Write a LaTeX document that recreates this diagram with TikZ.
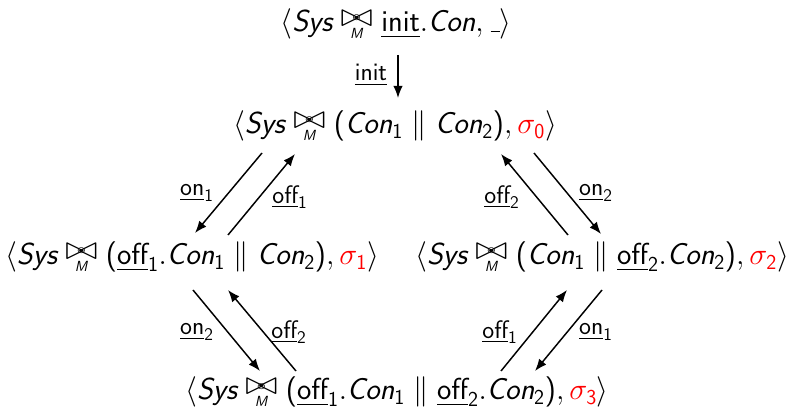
\RequirePackage{fix-cm}
\documentclass[tikz,border=0pt]{standalone}
\usepackage{amsmath}
\usepackage{graphicx}
\usetikzlibrary{arrows.meta}
\newcommand{\bwglyph}{\ooalign{\scalebox{1.3}[1.1]{$\bowtie$}\cr\hidewidth$\vcenter{\hbox{\scalebox{0.6}[0.5]{$\circ$}}}$\hidewidth\cr}}
\newcommand{\syncop}{\mathrel{\ooalign{\raisebox{0.19em}{\bwglyph}\cr\hidewidth\raisebox{-0.2em}{\fontsize{11}{12}\selectfont\textsl{M}}\hidewidth\cr}}}
\newcommand{\Sl}[1]{\textsl{#1}}
\newcommand{\ul}[1]{\underline{\textsf{#1}}}
\newcommand{\sbs}[1]{_{\textsf{#1}}}
\newcommand{\lp}{\textsf{(}}
\newcommand{\rp}{\textsf{)}}
\newcommand{\blank}{\kern0.06em\rule{0.3em}{0.045em}}
\tikzset{
  state/.style={anchor=base, inner sep=0pt, font=\sffamily\fontsize{22.8}{27}\selectfont},
  lbl/.style={inner sep=0pt, font=\sffamily\fontsize{19}{23}\selectfont},
  conn/.style={-{Latex[length=9pt,width=7pt]}, line width=1.1pt}
}
\begin{document}
\begin{tikzpicture}[x=0.75pt,y=-0.75pt]
\useasboundingbox (0,0) rectangle (789,416);
% states
\node[state] (top) at (396,32) {$\langle \Sl{Sys} \syncop \ul{init}.\Sl{Con}, \blank\rangle$};
\node[state] (s0) at (395,134) {$\langle \Sl{Sys} \syncop \lp\Sl{Con}\sbs1 \parallel \Sl{Con}\sbs2\rp, {\color{red}\sigma\sbs0}\rangle$};
\node[state] (s1) at (192,265) {$\langle \Sl{Sys} \syncop \lp\ul{off}\sbs1.\Sl{Con}\sbs1 \parallel \Sl{Con}\sbs2\rp, {\color{red}\sigma\sbs1}\rangle$};
\node[state] (s2) at (602,265) {$\langle \Sl{Sys} \syncop \lp\Sl{Con}\sbs1 \parallel \ul{off}\sbs2.\Sl{Con}\sbs2\rp, {\color{red}\sigma\sbs2}\rangle$};
\node[state] (s3) at (397,400) {$\langle \Sl{Sys} \syncop \lp\ul{off}\sbs1.\Sl{Con}\sbs1 \parallel \ul{off}\sbs2.\Sl{Con}\sbs2\rp, {\color{red}\sigma\sbs3}\rangle$};
% connector end points
\coordinate (i0) at (398,55);  \coordinate (i1) at (398,98);
\coordinate (a0) at (262,153); \coordinate (a1) at (195,233);
\coordinate (b0) at (228,235); \coordinate (b1) at (295,154);
\coordinate (c0) at (568,235); \coordinate (c1) at (501,154);
\coordinate (d0) at (534,153); \coordinate (d1) at (601,234);
\coordinate (e0) at (193,290); \coordinate (e1) at (260,371);
\coordinate (f0) at (296,371); \coordinate (f1) at (228,290);
\coordinate (g0) at (501,371); \coordinate (g1) at (567,290);
\coordinate (h0) at (602,290); \coordinate (h1) at (535,371);
\draw[conn] (i0) -- (i1);
\draw[conn] (a0) -- (a1);
\draw[conn] (b0) -- (b1);
\draw[conn] (c0) -- (c1);
\draw[conn] (d0) -- (d1);
\draw[conn] (e0) -- (e1);
\draw[conn] (f0) -- (f1);
\draw[conn] (g0) -- (g1);
\draw[conn] (h0) -- (h1);
% labels
\node[lbl] (li) at (371,75) {$\ul{init}$};
\node[lbl] (la) at (197,193) {$\ul{on}\sbs1$};
\node[lbl] (lb) at (290,197) {$\ul{off}\sbs1$};
\node[lbl] (lc) at (502,197) {$\ul{off}\sbs2$};
\node[lbl] (ld) at (596,193) {$\ul{on}\sbs2$};
\node[lbl] (le) at (197,332) {$\ul{on}\sbs2$};
\node[lbl] (lf) at (289,332) {$\ul{off}\sbs2$};
\node[lbl] (lg) at (500,332) {$\ul{off}\sbs1$};
\node[lbl] (lh) at (596,332) {$\ul{on}\sbs1$};
\end{tikzpicture}
\end{document}
